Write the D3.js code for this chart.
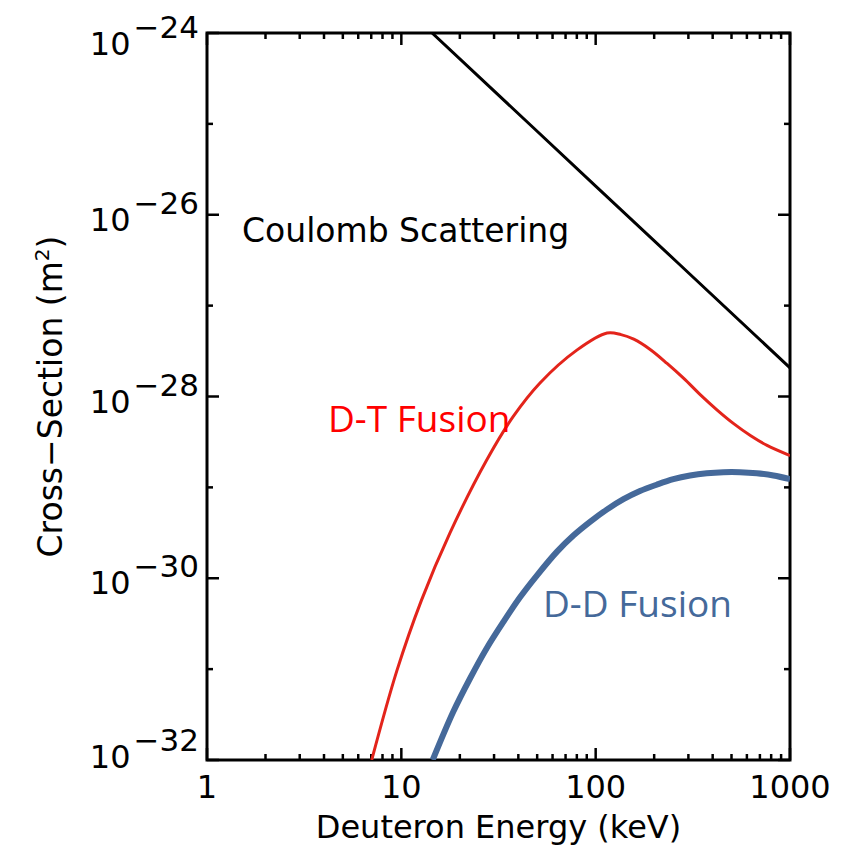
<!DOCTYPE html>
<html>
<head>
<meta charset="utf-8">
<script src="https://cdn.jsdelivr.net/npm/d3@7"></script>
<style>
  body { margin: 0; background: #fff; }
  text { font-family: "DejaVu Sans", sans-serif; }
</style>
</head>
<body>
<div id="chart"></div>
<script>
// energies in keV, cross-sections in m^2
const coulombE = [14.4, 100, 1000];
const coulombSigma = [1e-24, 2.07e-26, 2.07e-28];

const dtE = [7.04, 9.47, 12.7, 17.8, 27.5, 37.6, 51.7, 80, 114.5, 135, 157, 190, 233, 284, 345, 422, 515, 628, 762, 1000];
const dtSigma = [1e-32, 9.5e-32, 5.75e-31, 3.16e-30, 2.0e-29, 6.0e-29, 1.41e-28, 3.24e-28, 5.0e-28, 4.8e-28, 4.27e-28,
  3.31e-28, 2.31e-28, 1.58e-28, 1.05e-28, 7.1e-29, 5.0e-29, 3.7e-29, 2.9e-29, 2.24e-29];

const ddE = [14.5, 18.5, 22.6, 27.5, 33.5, 40.8, 49.8, 63.1, 76.8, 93.5, 114, 139, 169, 206, 251, 306, 373, 454, 553, 675, 822, 1000];
const ddSigma = [1e-32, 3.39e-32, 7.94e-32, 1.70e-31, 3.31e-31, 6.17e-31, 1.07e-30, 1.95e-30, 2.95e-30, 4.17e-30,
  5.69e-30, 7.41e-30, 9.12e-30, 1.07e-29, 1.23e-29, 1.35e-29, 1.43e-29, 1.47e-29, 1.47e-29, 1.43e-29, 1.35e-29, 1.23e-29];

const xTickValues = [1, 10, 100, 1000];
const xTickLabels = ["1", "10", "100", "1000"];
const yTickExponents = [-24, -26, -28, -30, -32];

const margin = { top: 33, right: 61, bottom: 87, left: 207 };
const width = 851 - margin.left - margin.right;
const height = 847 - margin.top - margin.bottom;

const svg = d3.select("#chart")
  .append("svg")
  .attr("width", 851)
  .attr("height", 847)
  .append("g")
  .attr("transform", `translate(${margin.left},${margin.top})`);

const x = d3.scaleLog().domain([1, 1000]).range([0, width]);
const y = d3.scaleLog().domain([1e-32, 1e-24]).range([height, 0]);

svg.append("clipPath").attr("id", "plotClip")
  .append("rect").attr("width", width).attr("height", height);

// ticks: minor at 2..9 per decade, major at decades (inward, on all four sides)
const xMinor = x.ticks().filter(v => !xTickValues.includes(v));
const yAll = d3.range(-32, -23).map(e => Math.pow(10, e));
const yMajor = yTickExponents.map(e => Math.pow(10, e));
const yMinor = yAll.filter(v => !yTickExponents.includes(Math.round(Math.log10(v))));

function tickLines(cls, vals, scale, vertical, len, atEdge, dir) {
  svg.append("g").selectAll("line." + cls)
    .data(vals)
    .enter().append("line")
    .attr("class", cls)
    .attr("x1", d => vertical ? atEdge : scale(d))
    .attr("x2", d => vertical ? atEdge + dir * len : scale(d))
    .attr("y1", d => vertical ? scale(d) : atEdge)
    .attr("y2", d => vertical ? scale(d) : atEdge + dir * len)
    .style("stroke", "#000")
    .style("stroke-width", 2.5);
}
tickLines("xmin-b", xMinor, x, false, 6, height, -1);
tickLines("xmaj-b", xTickValues, x, false, 12, height, -1);
tickLines("xmin-t", xMinor, x, false, 6, 0, 1);
tickLines("xmaj-t", xTickValues, x, false, 12, 0, 1);
tickLines("ymin-l", yMinor, y, true, 6, 0, 1);
tickLines("ymaj-l", yMajor, y, true, 12, 0, 1);
tickLines("ymin-r", yMinor, y, true, 6, width, -1);
tickLines("ymaj-r", yMajor, y, true, 12, width, -1);

// frame
svg.append("rect")
  .attr("width", width)
  .attr("height", height)
  .style("fill", "none")
  .style("stroke", "#000")
  .style("stroke-width", 3);

// x tick labels
svg.selectAll(".xlab")
  .data(xTickValues)
  .enter().append("text")
  .attr("class", "xlab")
  .attr("x", d => x(d))
  .attr("y", height + 38)
  .attr("text-anchor", "middle")
  .style("font-size", "32px")
  .text((d, i) => xTickLabels[i]);

// y tick labels 10^-n, kept inside the axis span like the original
const ylab = svg.selectAll(".ylab")
  .data(yTickExponents)
  .enter().append("text")
  .attr("class", "ylab")
  .attr("x", -8)
  .attr("y", d => Math.max(22, Math.min(height + 8, y(Math.pow(10, d)) + 16)))
  .attr("text-anchor", "end");
ylab.append("tspan").style("font-size", "32px").text("10");
ylab.append("tspan").attr("dx", 3).attr("dy", -17).style("font-size", "31px").text(d => "\u2212" + Math.abs(d));

// axis titles
svg.append("text")
  .attr("x", width / 2)
  .attr("y", height + 78)
  .attr("text-anchor", "middle")
  .style("font-size", "32px")
  .text("Deuteron Energy (keV)");

const yTitle = svg.append("text")
  .attr("transform", `translate(-145,${height / 2}) rotate(-90)`)
  .attr("text-anchor", "middle")
  .style("font-size", "33px");
yTitle.append("tspan").text("Cross\u2212Section (m");
yTitle.append("tspan").attr("dy", -13).style("font-size", "20px").text("2");
yTitle.append("tspan").attr("dy", 13).text(")");

// curves
const line = d3.line()
  .x(d => x(d[0]))
  .y(d => y(d[1]))
  .curve(d3.curveCatmullRom.alpha(0.5));

const plot = svg.append("g").attr("clip-path", "url(#plotClip)");

plot.append("path")
  .datum(d3.zip(coulombE, coulombSigma))
  .attr("d", line)
  .style("fill", "none")
  .style("stroke", "#000")
  .style("stroke-width", 3);

plot.append("path")
  .datum(d3.zip(dtE, dtSigma))
  .attr("d", line)
  .style("fill", "none")
  .style("stroke", "#e3241b")
  .style("stroke-width", 3);

plot.append("path")
  .datum(d3.zip(ddE, ddSigma))
  .attr("d", line)
  .style("fill", "none")
  .style("stroke", "#45699a")
  .style("stroke-width", 6);

// annotations
svg.append("text")
  .attr("x", 35)
  .attr("y", 209)
  .style("font-size", "33px")
  .text("Coulomb Scattering");

svg.append("text")
  .attr("x", 121)
  .attr("y", 399)
  .style("font-family", "'Open Sans', sans-serif")
  .style("font-size", "37px")
  .style("fill", "#ff0000")
  .text("D-T Fusion");

svg.append("text")
  .attr("x", 336)
  .attr("y", 584)
  .style("font-family", "'Open Sans', sans-serif")
  .style("font-size", "37px")
  .style("fill", "#45699a")
  .text("D-D Fusion");
</script>
</body>
</html>
